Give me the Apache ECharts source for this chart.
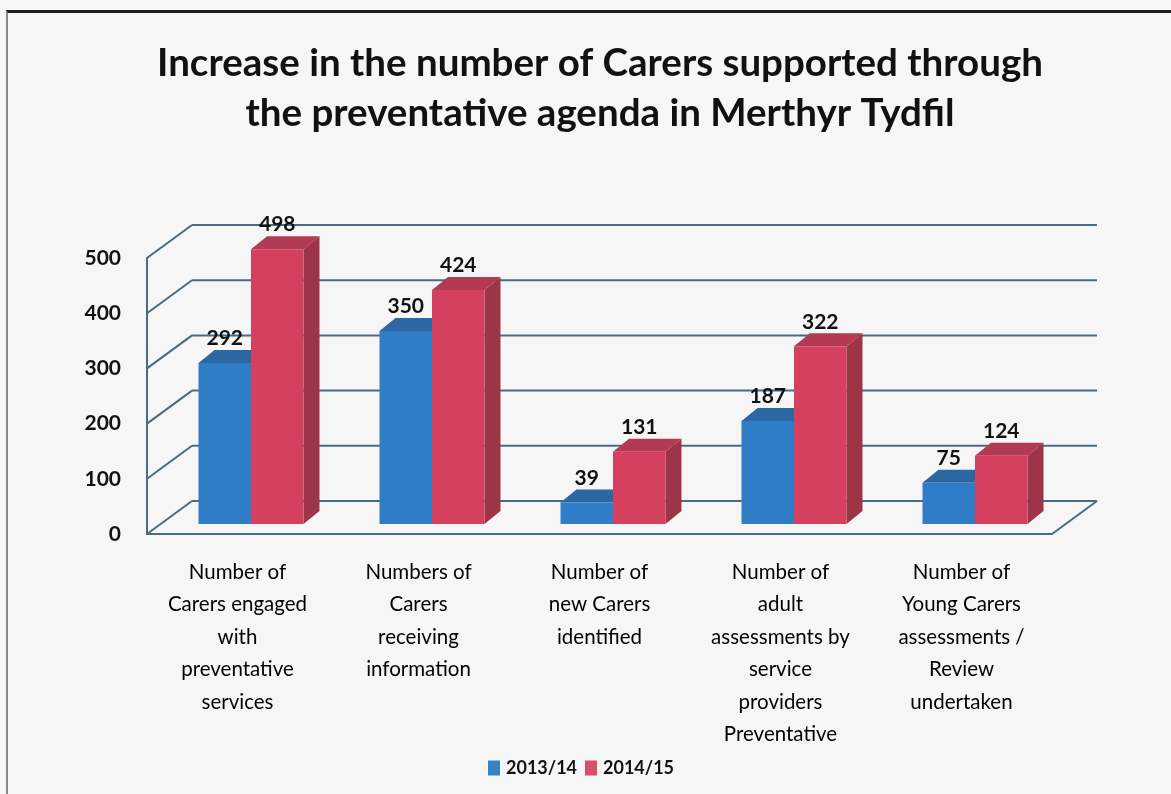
<!DOCTYPE html>
<html>
<head>
<meta charset="utf-8">
<script src="https://cdn.jsdelivr.net/npm/echarts@6/dist/echarts.min.js"></script>
<style>
  html, body { margin: 0; padding: 0; background: #f6f6f6; }
  #chart { width: 1171px; height: 794px; }
  #frame { position: absolute; left: 6px; top: 10px; width: 1180px; height: 800px;
           border-top: 3px solid #1e1e1e; border-left: 2px solid #8a8a8a; pointer-events: none; }
</style>
</head>
<body>
<div id="chart"></div>
<div id="frame"></div>
<script>
const titleText = 'Increase in the number of Carers supported through\nthe preventative agenda in Merthyr Tydfil';
const categories = [
  'Number of\nCarers engaged\nwith\npreventative\nservices',
  'Numbers of\nCarers\nreceiving\ninformation',
  'Number of\nnew Carers\nidentified',
  'Number of\nadult\nassessments by\nservice\nproviders\nPreventative',
  'Number of\nYoung Carers\nassessments /\nReview\nundertaken'
];
const seriesNames = ['2013/14', '2014/15'];
const values2013 = [292, 350, 39, 187, 75];
const values2014 = [498, 424, 131, 322, 124];
const yTicks = [0, 100, 200, 300, 400, 500];

const FONT = 'Lato, "Noto Sans", sans-serif';
const WALL_DX = 45, WALL_DY = -33;      // depth of the chart floor
const BAR_SHIFT = 0.3;                   // bars start 30% into the depth
const BAR_DX = 16, BAR_DY = -13;         // bar depth
const palettes = [
  { front: '#2e7dc6', top: '#2a67a3', side: '#255d93', legend: '#3585c9' },
  { front: '#d4405e', top: '#b23a53', side: '#9c3547', legend: '#d8506a' }
];
const gridColor = '#4a6b80';

function wallItem(params, api) {
  const cs = params.coordSys;
  const v = api.value(1);
  const y = api.coord([0, v])[1];
  const x0 = cs.x, x1 = cs.x + cs.width;
  const children = [
    { type: 'line', shape: { x1: x0 + WALL_DX, y1: y + WALL_DY, x2: x1 + WALL_DX, y2: y + WALL_DY },
      style: { stroke: gridColor, lineWidth: 2 } },
    { type: 'line', shape: { x1: x0, y1: y, x2: x0 + WALL_DX, y2: y + WALL_DY },
      style: { stroke: gridColor, lineWidth: 2 } }
  ];
  if (v === 0) {
    children.push({ type: 'line', shape: { x1: x1, y1: y, x2: x1 + WALL_DX, y2: y + WALL_DY },
      style: { stroke: gridColor, lineWidth: 2 } });
  }
  return { type: 'group', children };
}

function makeBarRenderer(idx) {
  const pal = palettes[idx];
  return function (params, api) {
    const cat = api.value(0), val = api.value(1);
    const base = api.coord([cat, 0]);
    const top = api.coord([cat, val]);
    const band = api.size([1, 0])[0];
    const w = band * 0.29;
    const sx = WALL_DX * BAR_SHIFT, sy = WALL_DY * BAR_SHIFT;
    const xL = base[0] - w + idx * w + sx;
    const xR = xL + w;
    const yB = base[1] + sy;
    const yT = top[1] + sy;
    return {
      type: 'group',
      children: [
        { type: 'polygon', shape: { points: [[xR, yB], [xR + BAR_DX, yB + BAR_DY], [xR + BAR_DX, yT + BAR_DY], [xR, yT]] },
          style: { fill: pal.side } },
        { type: 'polygon', shape: { points: [[xL, yT], [xL + BAR_DX, yT + BAR_DY], [xR + BAR_DX, yT + BAR_DY], [xR, yT]] },
          style: { fill: pal.top } },
        { type: 'rect', shape: { x: xL, y: yT, width: w, height: yB - yT },
          style: { fill: pal.front } },
        { type: 'text', z2: 10, style: { text: String(val), x: (xL + xR) / 2, y: yT + BAR_DY - 1,
            align: 'center', verticalAlign: 'bottom', fill: '#111', font: 'bold 21px ' + FONT } }
      ]
    };
  };
}

const chart = echarts.init(document.getElementById('chart'), null, { renderer: 'canvas' });
chart.setOption({
  backgroundColor: '#f6f6f6',
  animation: false,
  title: {
    text: titleText, left: 595, textAlign: 'center', top: 34,
    textStyle: { fontFamily: FONT, fontSize: 38.5, fontWeight: 'bold', color: '#111', lineHeight: 50 }
  },
  legend: {
    data: seriesNames, bottom: 12, left: 483,
    icon: 'rect', itemWidth: 12, itemHeight: 15, itemGap: 8,
    textStyle: { fontFamily: FONT, fontSize: 18, fontWeight: 'bold', color: '#111', padding: [0, 0, 0, 1] }
  },
  grid: { left: 147, right: 119, top: 258, bottom: 260, containLabel: false },
  xAxis: {
    type: 'category', data: categories,
    axisLine: { show: true, lineStyle: { color: gridColor, width: 2 } },
    axisTick: { show: false },
    axisLabel: { interval: 0, margin: 22, fontFamily: FONT, fontSize: 20.5, lineHeight: 32.5, color: '#000' },
    splitLine: { show: false }
  },
  yAxis: {
    type: 'value', min: 0, max: 500, interval: 100,
    axisLine: { show: true, lineStyle: { color: gridColor, width: 2 } },
    axisTick: { show: false },
    axisLabel: { margin: 26, fontFamily: FONT, fontSize: 21, fontWeight: 'bold', color: '#111' },
    splitLine: { show: false }
  },
  series: [
    { type: 'custom', name: 'walls', silent: true, z: 1, renderItem: wallItem,
      data: yTicks.map(v => [0, v]) },
    { type: 'custom', name: seriesNames[0], z: 2, renderItem: makeBarRenderer(0),
      itemStyle: { color: palettes[0].legend }, data: values2013.map((v, i) => [i, v]) },
    { type: 'custom', name: seriesNames[1], z: 3, renderItem: makeBarRenderer(1),
      itemStyle: { color: palettes[1].legend }, data: values2014.map((v, i) => [i, v]) }
  ]
});
</script>
</body>
</html>
